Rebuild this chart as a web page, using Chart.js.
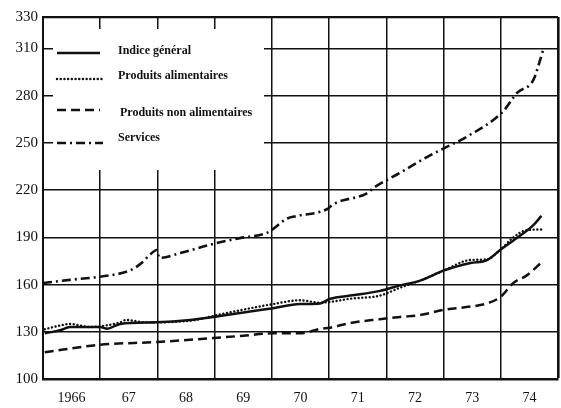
<!DOCTYPE html>
<html>
<head>
<meta charset="utf-8">
<script src="https://cdn.jsdelivr.net/npm/chart.js@4/dist/chart.umd.min.js"></script>
<style>
  html, body { margin: 0; padding: 0; background: #fff; }
  #wrap { width: 561px; height: 408px; }
</style>
</head>
<body>
<div id="wrap"><canvas id="chart" width="561" height="408"></canvas></div>
<script>
// axis ticks
const yearTicks = [1966, 1967, 1968, 1969, 1970, 1971, 1972, 1973, 1974, 1975];
const yearLabels = ['1966', '67', '68', '69', '70', '71', '72', '73', '74', ''];
const valueTicks = [100, 130, 160, 190, 220, 250, 280, 310, 330];

// Indice général
const generalYears = [66.03, 66.30, 66.47, 67.0, 67.12, 67.35, 67.99, 68.57, 69.09, 70.02, 70.49, 70.84, 71.02, 71.37, 71.89, 72.24, 72.59, 73.01, 73.47, 73.76, 73.99, 74.22, 74.57, 74.71];
const generalValues = [129, 131, 133, 133, 132, 135, 136, 137.5, 140, 145, 147.6, 148, 151, 153, 156, 159.5, 162.5, 169, 173.7, 175.6, 182, 188, 197.8, 203.6];

// Produits alimentaires
const foodYears = [66.03, 66.30, 66.47, 66.82, 67.0, 67.35, 67.45, 67.8, 68.57, 69.09, 70.02, 70.49, 70.84, 71.02, 71.37, 71.89, 72.24, 72.59, 73.01, 73.47, 73.76, 73.99, 74.22, 74.46, 74.71];
const foodValues = [131.6, 134, 135, 133, 133.5, 136, 137.5, 136, 137, 141, 147.6, 150, 148.5, 149, 151, 153, 158, 162.5, 169, 175.6, 176, 182, 190, 194.6, 195];

// Produits non alimentaires
const nonFoodYears = [66.03, 67.0, 67.99, 68.97, 69.5, 70.02, 70.49, 70.84, 71.02, 71.37, 71.89, 72.24, 72.59, 73.01, 73.47, 73.76, 73.99, 74.22, 74.46, 74.71];
const nonFoodValues = [117, 121.8, 123.5, 126, 127.5, 129, 129, 131.8, 132.6, 135.6, 138, 139.4, 140.6, 144, 146, 148, 152, 161, 166, 174];

// Services
const servicesYears = [66.0, 66.47, 67.0, 67.52, 67.7, 67.87, 67.99, 68.03, 68.4, 68.99, 69.44, 69.92, 70.27, 70.44, 70.97, 71.07, 71.66, 71.8, 72.24, 72.71, 73.03, 73.41, 74.04, 74.29, 74.57, 74.69, 74.74];
const servicesValues = [161, 163, 165, 169, 173, 179, 182, 177, 180, 186, 189.5, 193, 202, 203.6, 208, 211, 218, 222, 231, 241, 247, 254, 270, 282, 290, 303, 309];

const seriesNames = ['Indice général', 'Produits alimentaires', 'Produits non alimentaires', 'Services'];

const toPoints = (years, values) => years.map((y, i) => ({ x: 1900 + y, y: values[i] }));

const ink = '#111';
const serif = "'Liberation Serif', 'DejaVu Serif', serif";

// legend drawn inside the plot, on a white patch that hides the grid
const legendPlugin = {
  id: 'boxLegend',
  afterDraw(chart) {
    const ctx = chart.ctx;
    ctx.save();
    ctx.fillStyle = '#fff';
    ctx.fillRect(53, 29, 211, 141);
    const rows = [
      { sy: 53, ty: 51, x2: 100 },
      { sy: 79, ty: 76, x2: 105 },
      { sy: 110, ty: 113, x2: 100 },
      { sy: 143, ty: 138, x2: 103 }
    ];
    chart.data.datasets.forEach((ds, i) => {
      const r = rows[i];
      ctx.strokeStyle = ink;
      ctx.lineWidth = ds.borderWidth;
      ctx.lineCap = ds.borderCapStyle || 'butt';
      ctx.setLineDash(ds.borderDash || []);
      ctx.beginPath();
      ctx.moveTo(57, r.sy);
      ctx.lineTo(r.x2, r.sy);
      ctx.stroke();
      ctx.setLineDash([]);
      ctx.fillStyle = ink;
      ctx.font = 'bold 12px ' + serif;
      ctx.textBaseline = 'middle';
      ctx.textAlign = 'left';
      ctx.fillText(ds.label, i === 2 ? 120 : 118, r.ty);
    });
    ctx.restore();
  }
};

new Chart(document.getElementById('chart'), {
  type: 'line',
  data: {
    datasets: [
      {
        label: seriesNames[0],
        data: toPoints(generalYears, generalValues),
        borderColor: ink,
        borderWidth: 2.5,
        borderDash: []
      },
      {
        label: seriesNames[1],
        data: toPoints(foodYears, foodValues),
        borderColor: ink,
        borderWidth: 2.4,
        borderDash: [0.1, 3.6],
        borderCapStyle: 'round'
      },
      {
        label: seriesNames[2],
        data: toPoints(nonFoodYears, nonFoodValues),
        borderColor: ink,
        borderWidth: 2.5,
        borderDash: [9, 5]
      },
      {
        label: seriesNames[3],
        data: toPoints(servicesYears, servicesValues),
        borderColor: ink,
        borderWidth: 2.6,
        borderDash: [9, 4, 2, 4]
      }
    ]
  },
  options: {
    responsive: false,
    animation: false,
    devicePixelRatio: 1,
    layout: { padding: { top: 17, right: 3, left: 0, bottom: 0 } },
    elements: {
      point: { radius: 0 },
      line: { cubicInterpolationMode: 'monotone', fill: false }
    },
    plugins: {
      legend: { display: false },
      tooltip: { enabled: false }
    },
    scales: {
      x: {
        type: 'linear',
        min: 1966,
        max: 1975,
        afterBuildTicks: scale => { scale.ticks = yearTicks.map(v => ({ value: v })); },
        afterFit: scale => {
          scale.height = 29;
          scale.paddingLeft = 0;
          scale.paddingRight = 0;
        },
        grid: {
          color: ink,
          lineWidth: c => (c.tick && c.tick.value === 1975 ? 2.6 : 1.5),
          drawTicks: false
        },
        border: { display: true, color: ink, width: 2.4 },
        ticks: {
          autoSkip: false,
          maxRotation: 0,
          padding: 11,
          labelOffset: 28.6,
          color: ink,
          font: { family: serif, size: 14 },
          callback: v => yearLabels[yearTicks.indexOf(v)]
        }
      },
      y: {
        min: 100,
        max: 330,
        afterBuildTicks: scale => { scale.ticks = valueTicks.map(v => ({ value: v })); },
        afterFit: scale => { scale.width = 43; },
        grid: {
          color: ink,
          lineWidth: c => (c.tick && c.tick.value === 330 ? 2.2 : 1.5),
          drawTicks: false
        },
        border: { display: true, color: ink, width: 2 },
        ticks: {
          padding: 5,
          color: ink,
          font: { family: serif, size: 15 },
          callback: v => String(v)
        }
      }
    }
  },
  plugins: [legendPlugin]
});
</script>
</body>
</html>
